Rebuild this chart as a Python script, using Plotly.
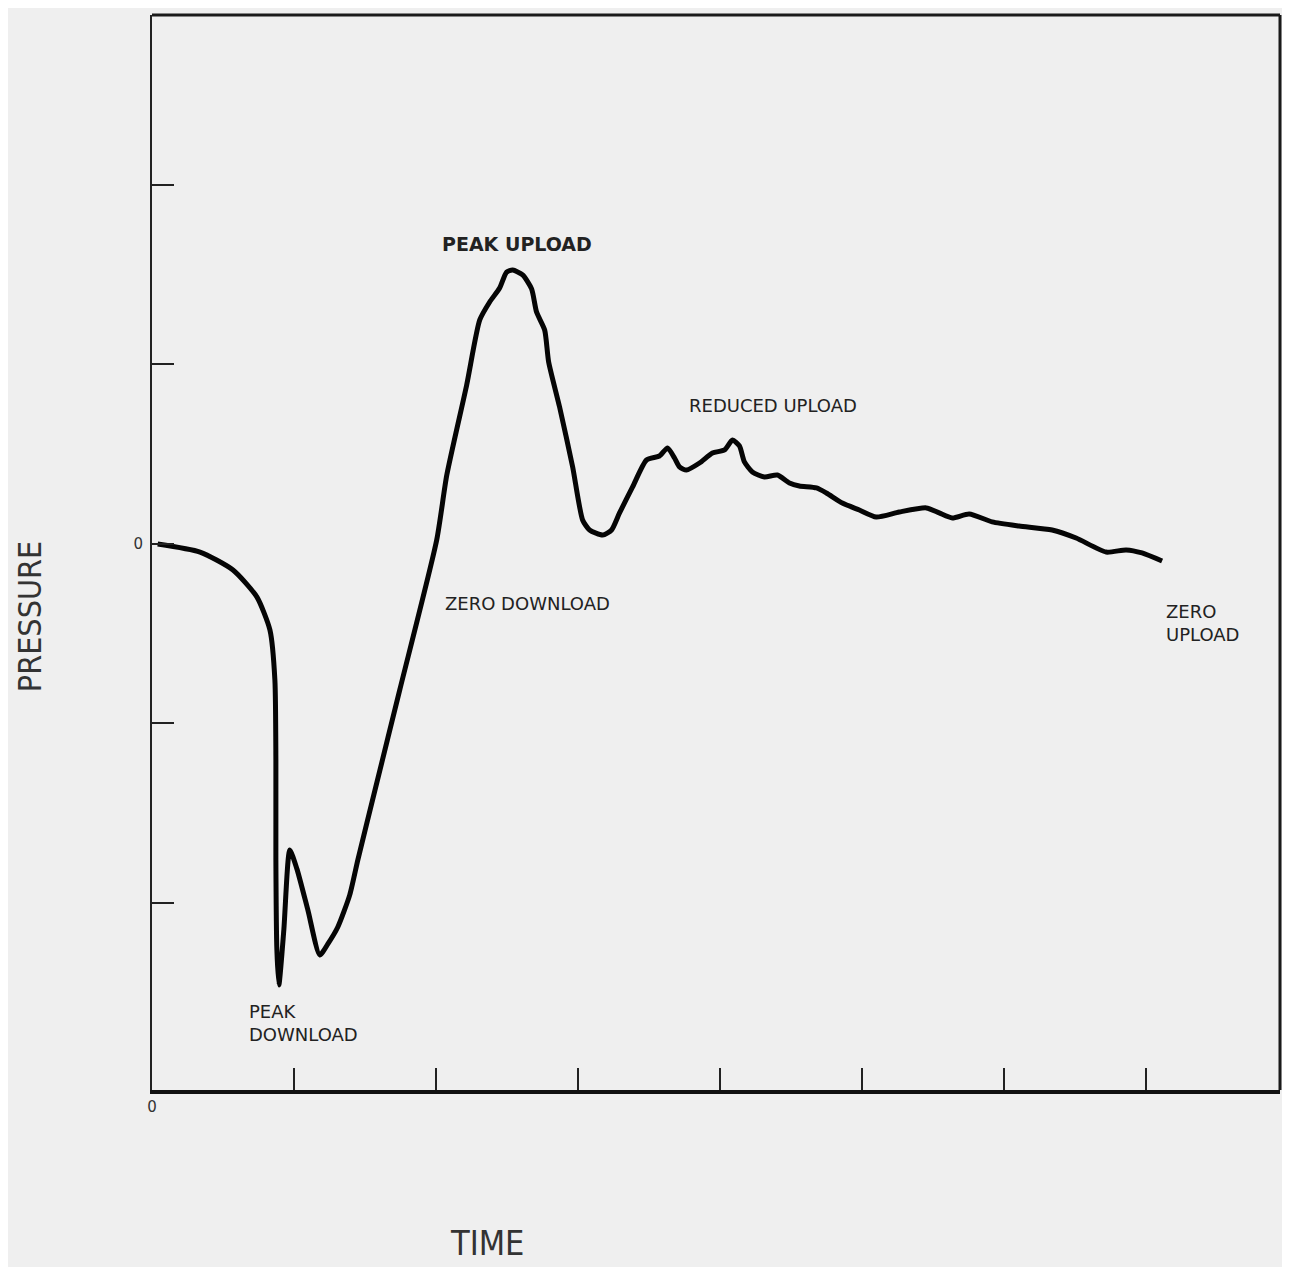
import plotly.graph_objects as go

# Time (tick units) and pressure (tick units)
time = [0.04, 0.338, 0.570, 0.738, 0.830, 0.865, 0.872, 0.872, 0.879, 0.893,
        0.928, 0.970, 1.020, 1.097, 1.181, 1.238, 1.308, 1.392, 1.449, 1.57,
        1.744, 2.004, 2.075, 2.215, 2.307, 2.377, 2.447, 2.496, 2.539, 2.609,
        2.672, 2.707, 2.764, 2.792, 2.869, 2.961, 3.031, 3.080, 3.172, 3.235,
        3.291, 3.383, 3.481, 3.572, 3.629, 3.678, 3.713, 3.762, 3.854, 3.945,
        4.030, 4.086, 4.135, 4.170, 4.226, 4.311, 4.402, 4.487, 4.557, 4.677,
        4.747, 4.859, 4.979, 5.098, 5.260, 5.450, 5.541, 5.633, 5.752, 5.914,
        6.104, 6.336, 6.505, 6.716, 6.857, 6.969, 7.110]
pressure = [0.0, -0.045, -0.145, -0.295, -0.479, -0.758, -1.203, -1.760, -2.262, -2.457,
            -2.150, -1.705, -1.81, -2.039, -2.290, -2.228, -2.134, -1.955, -1.760, -1.370,
            -0.813, 0.022, 0.384, 0.886, 1.248, 1.348, 1.426, 1.515, 1.526, 1.499,
            1.421, 1.292, 1.192, 1.014, 0.763, 0.429, 0.134, 0.078, 0.050, 0.078,
            0.173, 0.318, 0.468, 0.490, 0.535, 0.479, 0.429, 0.412, 0.451, 0.507,
            0.524, 0.579, 0.546, 0.457, 0.401, 0.373, 0.384, 0.340, 0.323, 0.312,
            0.284, 0.228, 0.189, 0.150, 0.178, 0.201, 0.173, 0.145, 0.167, 0.123,
            0.100, 0.078, 0.033, -0.045, -0.033, -0.050, -0.095]

x_ticks = [0, 1, 2, 3, 4, 5, 6, 7]
x_ticktext = ["0", "", "", "", "", "", "", ""]
y_ticks = [-2, -1, 0, 1, 2]
y_ticktext = ["", "", "0", "", ""]

labels = [
    ("PEAK UPLOAD", 2.567, 1.671, "center", True, 19),
    ("REDUCED UPLOAD", 4.374, 0.769, "center", False, 18),
    ("ZERO DOWNLOAD", 2.644, -0.334, "center", False, 18),
    ("PEAK<br>DOWNLOAD", 0.668, -2.67, "left", False, 18),
    ("ZERO<br>UPLOAD", 7.124, -0.44, "left", False, 18),
]

fig = go.Figure()
fig.add_trace(go.Scatter(
    x=time, y=pressure, mode="lines",
    line=dict(color="#050505", width=5, shape="spline", smoothing=0.6),
    showlegend=False, hoverinfo="skip"))

for text, x, y, align, bold, size in labels:
    fig.add_annotation(
        x=x, y=y, xref="x", yref="y", text=text, showarrow=False,
        xanchor="center" if align == "center" else "left", align=align,
        yanchor="middle",
        font=dict(family="DejaVu Sans", size=size, color="#222222",
                  weight="bold" if bold else "normal"))

fig.add_annotation(
    x=-0.108, y=0.44, xref="paper", yref="paper", text="PRESSURE",
    showarrow=False, textangle=-90, xanchor="center", yanchor="middle",
    font=dict(family="Liberation Sans Narrow, DejaVu Sans Condensed, sans-serif",
              size=32, color="#333333"))
fig.add_annotation(
    x=0.297, y=-0.163, xref="paper", yref="paper", text="TIME",
    showarrow=False, xanchor="center", yanchor="bottom",
    font=dict(family="Liberation Sans Narrow, DejaVu Sans Condensed, sans-serif",
              size=34, color="#333333"))

# frame top and right
fig.add_shape(type="line", xref="paper", yref="paper", x0=0, x1=1, y0=1, y1=1,
              line=dict(color="#1a1a1a", width=3))
fig.add_shape(type="line", xref="paper", yref="paper", x0=1, x1=1, y0=0, y1=1,
              line=dict(color="#1a1a1a", width=3))

fig.update_xaxes(
    range=[0, 7.94], showgrid=False, zeroline=False,
    showline=True, linecolor="#111111", linewidth=4,
    ticks="inside", ticklen=22, tickwidth=2, tickcolor="#222222",
    tickvals=x_ticks, ticktext=x_ticktext,
    tickfont=dict(family="DejaVu Sans", size=15, color="#333333"))
fig.update_yaxes(
    range=[-3.042, 2.947], showgrid=False, zeroline=False,
    showline=True, linecolor="#222222", linewidth=2,
    ticks="inside", ticklen=22, tickwidth=2, tickcolor="#222222",
    tickvals=y_ticks, ticktext=y_ticktext, ticklabelstandoff=4,
    tickfont=dict(family="DejaVu Sans", size=15, color="#333333"))

fig.update_layout(
    width=1274, height=1259,
    margin=dict(l=144, r=2, t=7, b=177),
    paper_bgcolor="#efefef", plot_bgcolor="#efefef")

fig.write_html("out.html")
